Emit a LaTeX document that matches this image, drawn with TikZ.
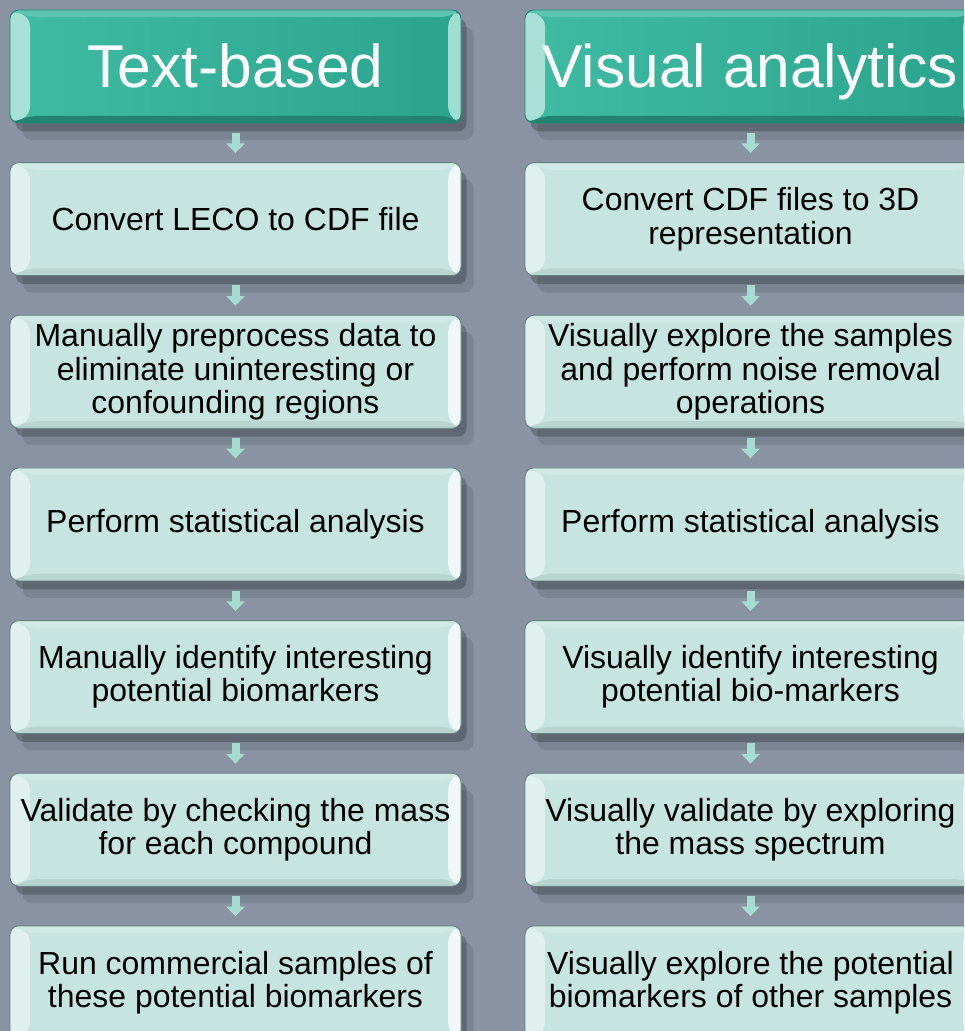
\documentclass[tikz,border=0pt]{standalone}
\usepackage{fontspec}
\setmainfont{Liberation Sans}
\usetikzlibrary{positioning,shadows,arrows.meta}

\definecolor{pagebg}{HTML}{8993A4}
\definecolor{boxfill}{HTML}{C7E5E0}
\definecolor{boxedge}{HTML}{62807C}
\definecolor{headedge}{HTML}{1F8673}
\definecolor{arrowfill}{HTML}{A6DBCF}
\definecolor{headleft}{HTML}{3FBBA3}
\definecolor{headmid}{HTML}{92D9CC}
\definecolor{headright}{HTML}{2BA48E}

% bevel strips: left, right, top, bottom
\newcommand{\bevelstrips}[4]{%
  \fill[#3] (path picture bounding box.north west) -- (path picture bounding box.north east)
    -- ([shift={(-0.32cm,-0.18cm)}]path picture bounding box.north east)
    -- ([shift={(0.5cm,-0.18cm)}]path picture bounding box.north west) -- cycle;
  \fill[#4] (path picture bounding box.south west) -- (path picture bounding box.south east)
    -- ([shift={(-0.32cm,0.18cm)}]path picture bounding box.south east)
    -- ([shift={(0.5cm,0.18cm)}]path picture bounding box.south west) -- cycle;
  \fill[#1] (path picture bounding box.south west) -- (path picture bounding box.north west)
    -- ([shift={(0.5cm,-0.18cm)}]path picture bounding box.north west)
    -- ([shift={(0.5cm,0.18cm)}]path picture bounding box.south west) -- cycle;
  \fill[#2] (path picture bounding box.south east) -- (path picture bounding box.north east)
    -- ([shift={(-0.32cm,-0.18cm)}]path picture bounding box.north east)
    -- ([shift={(-0.32cm,0.18cm)}]path picture bounding box.south east) -- cycle;}

\begin{document}
\begin{tikzpicture}[
  softshade/.style={
    drop shadow={shadow xshift=9pt, shadow yshift=-12pt, opacity=0.10, fill=black},
    drop shadow={shadow xshift=4pt, shadow yshift=-6pt, opacity=0.22, fill=black}},
  stepbox/.style={softshade, draw=boxedge, line width=0.6pt, rounded corners=0.22cm, fill=boxfill,
    minimum width=11.275cm, minimum height=2.825cm, inner xsep=0pt, inner ysep=2pt,
    align=center, font=\fontsize{22.75}{23.6}\selectfont, text=black,
    path picture={\bevelstrips{white!42!boxfill}{white!72!boxfill}{white!14!boxfill}{black!7!boxfill}}},
  headbox/.style={softshade, draw=headedge, line width=0.6pt, rounded corners=0.22cm,
    left color=headleft, middle color=headmid, right color=headright,
    minimum width=11.275cm, minimum height=2.825cm, inner xsep=0pt,
    font=\fontsize{43}{48}\selectfont, text=white, text height=34pt, text depth=3.5pt,
    path picture={\bevelstrips{headleft!45!white}{headleft!50!white}{headleft!85!white}{headright!80!black}}},
  flowarrow/.style={-{Triangle[width=0.45cm,length=0.24cm]}, line width=0.2cm, draw=arrowfill,
    shorten <=0.23cm, shorten >=0.23cm},
  node distance=0.97cm
]
\useasboundingbox (0,0) rectangle (24.1,-25.775);
\fill[pagebg] (0,0) rectangle (24.1,-25.775);
\clip (0,0) rectangle (24.1,-25.775);

% text-based column
\node[headbox] (tb0) at (5.8875,-1.6625) {Text-based};
\node[stepbox, below=of tb0] (tb1) {Convert LECO to CDF file};
\node[stepbox, below=of tb1] (tb2) {Manually preprocess data to\\eliminate uninteresting or\\confounding regions};
\node[stepbox, below=of tb2] (tb3) {Perform statistical analysis};
\node[stepbox, below=of tb3] (tb4) {Manually identify interesting\\potential biomarkers};
\node[stepbox, below=of tb4] (tb5) {Validate by checking the mass\\for each compound};
\node[stepbox, below=of tb5] (tb6) {Run commercial samples of\\these potential biomarkers};

% visual analytics column
\node[headbox] (va0) at (18.7625,-1.6625) {Visual analytics};
\node[stepbox, below=of va0] (va1) {Convert CDF files to 3D\\representation};
\node[stepbox, below=of va1] (va2) {Visually explore the samples\\and perform noise removal\\operations};
\node[stepbox, below=of va2] (va3) {Perform statistical analysis};
\node[stepbox, below=of va3] (va4) {Visually identify interesting\\potential bio-markers};
\node[stepbox, below=of va4] (va5) {Visually validate by exploring\\the mass spectrum};
\node[stepbox, below=of va5] (va6) {Visually explore the potential\\biomarkers of other samples};

\draw[flowarrow] (tb0) -- (tb1); \draw[flowarrow] (va0) -- (va1);
\draw[flowarrow] (tb1) -- (tb2); \draw[flowarrow] (va1) -- (va2);
\draw[flowarrow] (tb2) -- (tb3); \draw[flowarrow] (va2) -- (va3);
\draw[flowarrow] (tb3) -- (tb4); \draw[flowarrow] (va3) -- (va4);
\draw[flowarrow] (tb4) -- (tb5); \draw[flowarrow] (va4) -- (va5);
\draw[flowarrow] (tb5) -- (tb6); \draw[flowarrow] (va5) -- (va6);
\end{tikzpicture}
\end{document}
